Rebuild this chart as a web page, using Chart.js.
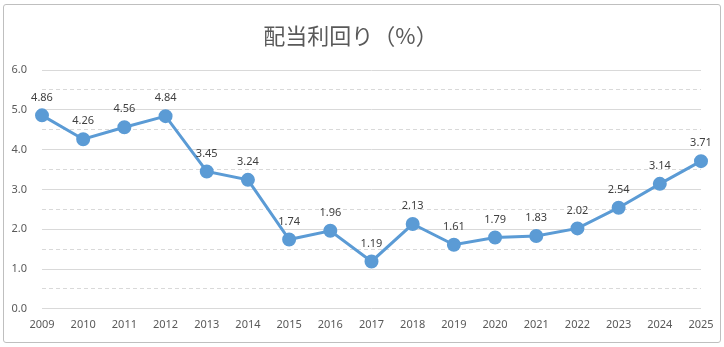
<!DOCTYPE html>
<html><head><meta charset="utf-8">
<script src="https://cdn.jsdelivr.net/npm/chart.js@4/dist/chart.umd.min.js"></script>
<style>
html,body{margin:0;padding:0;background:#fff;}
#wrap{position:relative;width:724px;height:347px;}
#frame{position:absolute;left:3px;top:4px;width:716px;height:337px;border:1px solid #bfbfbf;border-radius:3px;pointer-events:none;}
</style></head>
<body><div id="wrap"><canvas id="c" width="724" height="347"></canvas><div id="frame"></div></div>
<script>
const titleText = '配当利回り（%）';
const years = ['2009','2010','2011','2012','2013','2014','2015','2016','2017','2018','2019','2020','2021','2022','2023','2024','2025'];
const yieldValues = [4.86,4.26,4.56,4.84,3.45,3.24,1.74,1.96,1.19,2.13,1.61,1.79,1.83,2.02,2.54,3.14,3.71];
const yMin = 0, yMax = 6, yStep = 0.5;

const labelPlugin = {
  id:'pointLabels',
  afterDatasetsDraw(chart){
    const ctx = chart.ctx;
    const meta = chart.getDatasetMeta(0);
    ctx.save();
    ctx.font = '11px "Noto Sans", sans-serif';
    ctx.fillStyle = '#404040';
    ctx.textAlign = 'center';
    ctx.textBaseline = 'middle';
    meta.data.forEach((pt,i)=>{
      ctx.fillText(yieldValues[i].toFixed(2), pt.x, pt.y - 18);
    });
    ctx.restore();
  }
};

new Chart(document.getElementById('c'), {
  type:'line',
  data:{labels:years, datasets:[{
    data:yieldValues,
    borderColor:'#5b9bd5',
    backgroundColor:'#5b9bd5',
    borderWidth:3,
    pointRadius:5.5,
    pointBackgroundColor:'#5b9bd5',
    pointBorderColor:'#5b9bd5',
    tension:0
  }]},
  options:{
    responsive:false,
    animation:false,
    devicePixelRatio:1,
    layout:{padding:{left:0,right:23,top:0,bottom:7}},
    plugins:{
      legend:{display:false},
      tooltip:{enabled:false},
      title:{display:true,text:titleText,color:'#595959',
        font:{family:'"Noto Sans CJK JP", sans-serif',size:22,weight:'normal',lineHeight:1.2},
        padding:{top:22,bottom:21.6}}
    },
    scales:{
      x:{
        offset:false,
        grid:{display:false,drawTicks:false},
        border:{display:false},
        ticks:{color:'#595959',font:{family:'"Noto Sans", sans-serif',size:11},padding:9,maxRotation:0,autoSkip:false}
      },
      y:{
        min:yMin,max:yMax,
        afterFit(s){s.width=42;},
        grid:{drawTicks:false,color:'#d9d9d9',lineWidth:1},
        border:{display:false,dash:(c)=> (c.tick && Math.abs(c.tick.value % 1) > 0.01) ? [4,3] : []},
        ticks:{stepSize:yStep,autoSkip:false,color:'#595959',font:{family:'"Noto Sans", sans-serif',size:11},padding:15,
          callback:(v)=> Math.abs(v%1)>0.01 ? '' : v.toFixed(1)}
      }
    }
  },
  plugins:[labelPlugin]
});
</script></body></html>
